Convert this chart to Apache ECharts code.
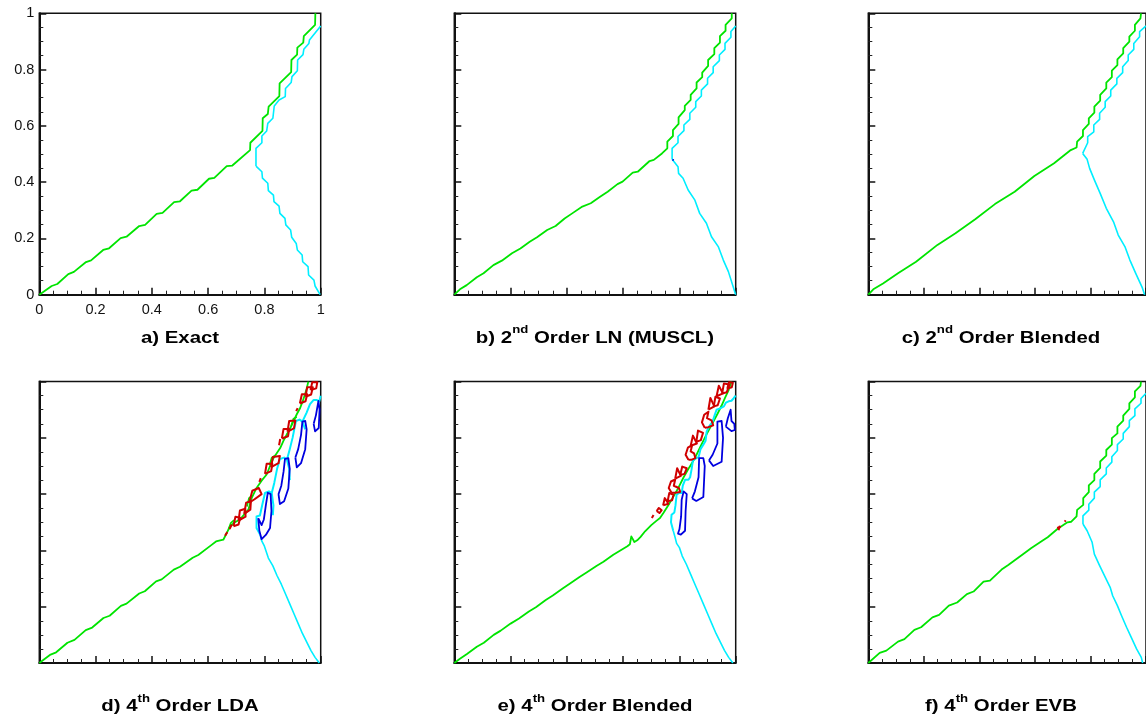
<!DOCTYPE html>
<html>
<head>
<meta charset="utf-8">
<script src="https://cdn.jsdelivr.net/npm/echarts@6/dist/echarts.min.js"></script>
<style>
html,body{margin:0;padding:0;background:#fff}
#chart{width:1146px;height:719px}
</style>
</head>
<body>
<div id="chart"></div>
<script>
// ---- panel captions: [prefix, superscript, suffix] ----
const panelTitles = [
  ['a) Exact', '', ''],
  ['b) 2', 'nd', ' Order LN (MUSCL)'],
  ['c) 2', 'nd', ' Order Blended'],
  ['d) 4', 'th', ' Order LDA'],
  ['e) 4', 'th', ' Order Blended'],
  ['f) 4', 'th', ' Order EVB']
];
const tickValues = [0, 0.2, 0.4, 0.6, 0.8, 1];

// ---- a) Exact ----
const aGreen = [[0,0],[0.044,0.031],[0.064,0.038],[0.103,0.073],[0.123,0.081],[0.166,0.116],[0.184,0.122],[0.227,0.159],[0.248,0.165],[0.289,0.201],[0.310,0.206],[0.355,0.244],[0.376,0.248],[0.417,0.287],[0.438,0.291],[0.479,0.329],[0.5,0.332],[0.541,0.370],[0.562,0.373],[0.603,0.412],[0.622,0.415],[0.666,0.457],[0.686,0.459],[0.749,0.514],[0.750,0.540],[0.793,0.582],[0.794,0.627],[0.812,0.642],[0.815,0.668],[0.853,0.706],[0.854,0.751],[0.895,0.791],[0.896,0.834],[0.916,0.853],[0.917,0.878],[0.938,0.896],[0.940,0.919],[0.980,0.959],[0.981,1.0]];
const aCyanUpper = [[0.770,0.457],[0.770,0.520],[0.791,0.540],[0.791,0.564],[0.808,0.582],[0.812,0.609],[0.830,0.627],[0.835,0.671],[0.852,0.692],[0.874,0.704],[0.875,0.733],[0.895,0.754],[0.898,0.775],[0.917,0.796],[0.918,0.834],[0.937,0.853],[0.940,0.872],[0.958,0.893],[0.960,0.905],[1.0,0.955]];
const aCyanLower = [[0.770,0.457],[0.791,0.437],[0.793,0.414],[0.812,0.396],[0.814,0.370],[0.832,0.354],[0.834,0.331],[0.852,0.315],[0.855,0.289],[0.873,0.271],[0.876,0.248],[0.893,0.230],[0.897,0.204],[0.913,0.182],[0.917,0.159],[0.934,0.141],[0.936,0.117],[0.955,0.100],[0.957,0.070],[0.976,0.052],[0.980,0.031],[0.998,0]];

// ---- b) 2nd order LN (MUSCL) ----
const bGreen = [[0,0],[0.020,0.019],[0.044,0.034],[0.080,0.062],[0.104,0.076],[0.139,0.105],[0.169,0.121],[0.205,0.147],[0.235,0.164],[0.268,0.188],[0.294,0.204],[0.330,0.230],[0.360,0.244],[0.392,0.271],[0.419,0.289],[0.455,0.313],[0.485,0.325],[0.518,0.348],[0.545,0.366],[0.580,0.393],[0.598,0.402],[0.634,0.434],[0.652,0.437],[0.694,0.475],[0.709,0.479],[0.738,0.502],[0.757,0.520],[0.757,0.544],[0.777,0.564],[0.777,0.585],[0.797,0.607],[0.797,0.630],[0.819,0.656],[0.819,0.671],[0.840,0.692],[0.840,0.710],[0.861,0.733],[0.861,0.754],[0.881,0.773],[0.881,0.789],[0.902,0.813],[0.902,0.834],[0.924,0.855],[0.924,0.876],[0.944,0.896],[0.944,0.919],[0.964,0.938],[0.964,0.959],[0.986,0.982],[0.986,1.0]];
const bCyanUpper = [[0.774,0.481],[0.774,0.520],[0.795,0.540],[0.795,0.562],[0.816,0.583],[0.816,0.603],[0.837,0.623],[0.837,0.645],[0.858,0.666],[0.858,0.686],[0.878,0.706],[0.878,0.727],[0.900,0.749],[0.900,0.769],[0.920,0.789],[0.920,0.810],[0.942,0.832],[0.942,0.852],[0.962,0.872],[0.962,0.893],[0.983,0.915],[0.983,0.935],[1.0,0.955]];
const bCyanLower = [[0.774,0.481],[0.795,0.455],[0.797,0.431],[0.813,0.414],[0.831,0.372],[0.855,0.336],[0.872,0.289],[0.896,0.254],[0.914,0.206],[0.938,0.171],[0.956,0.123],[0.974,0.082],[1.0,0]];
const bBlue = [[0.776,0.476],[0.779,0.482]];

// ---- c) 2nd order blended ----
const cGreen = [[0,0],[0.018,0.019],[0.053,0.040],[0.107,0.076],[0.172,0.117],[0.249,0.177],[0.314,0.218],[0.385,0.268],[0.456,0.322],[0.527,0.366],[0.598,0.422],[0.669,0.467],[0.729,0.514],[0.750,0.523],[0.752,0.544],[0.773,0.564],[0.773,0.585],[0.794,0.607],[0.794,0.627],[0.814,0.647],[0.814,0.668],[0.835,0.690],[0.835,0.710],[0.857,0.733],[0.857,0.754],[0.877,0.773],[0.877,0.796],[0.897,0.816],[0.897,0.836],[0.918,0.858],[0.918,0.876],[0.940,0.899],[0.940,0.917],[0.960,0.938],[0.960,0.959],[0.980,0.982],[0.982,1.0]];
const cCyanUpper = [[0.772,0.502],[0.790,0.540],[0.790,0.562],[0.812,0.579],[0.812,0.603],[0.833,0.623],[0.833,0.645],[0.853,0.666],[0.853,0.686],[0.873,0.706],[0.873,0.727],[0.895,0.749],[0.895,0.769],[0.916,0.789],[0.916,0.810],[0.936,0.832],[0.936,0.852],[0.956,0.872],[0.956,0.893],[0.977,0.917],[0.977,0.935],[1.0,0.955]];
const cCyanLower = [[0.772,0.502],[0.788,0.481],[0.797,0.449],[0.814,0.408],[0.835,0.360],[0.857,0.307],[0.883,0.259],[0.900,0.212],[0.924,0.171],[0.942,0.123],[0.963,0.076],[0.987,0.024],[0.995,0]];

// ---- d) 4th order LDA ----
const dGreen = [[0,0],[0.040,0.030],[0.060,0.038],[0.100,0.072],[0.125,0.082],[0.165,0.117],[0.188,0.126],[0.228,0.160],[0.250,0.168],[0.290,0.203],[0.310,0.211],[0.355,0.247],[0.375,0.255],[0.415,0.290],[0.435,0.297],[0.478,0.332],[0.500,0.342],[0.545,0.374],[0.565,0.384],[0.610,0.418],[0.628,0.432],[0.654,0.438],[0.665,0.460],[0.678,0.486],[0.695,0.500],[0.713,0.510],[0.730,0.530],[0.743,0.545],[0.755,0.587],[0.772,0.622],[0.790,0.648],[0.808,0.670],[0.820,0.700],[0.832,0.728],[0.856,0.764],[0.868,0.790],[0.879,0.811],[0.892,0.835],[0.903,0.859],[0.915,0.884],[0.927,0.906],[0.936,0.930],[0.944,0.954],[0.950,0.975],[0.956,1.0]];
const dGreenSpikes = [
  [[0.672,0.474],[0.680,0.497],[0.692,0.508]],
  [[0.738,0.556],[0.745,0.586],[0.755,0.594]],
  [[0.818,0.703],[0.826,0.730],[0.838,0.738]],
  [[0.895,0.842],[0.903,0.868],[0.915,0.874]]
];
const dCyanUpper = [
  [[0.784,0.457],[0.772,0.480],[0.772,0.521],[0.784,0.524],[0.793,0.565],[0.802,0.604],[0.816,0.610],[0.826,0.604],[0.832,0.560],[0.830,0.525]],
  [[0.826,0.604],[0.835,0.640],[0.845,0.690],[0.855,0.725],[0.870,0.730],[0.880,0.722],[0.888,0.690],[0.890,0.650]],
  [[0.880,0.722],[0.890,0.760],[0.900,0.800],[0.912,0.860],[0.925,0.865],[0.935,0.858],[0.945,0.830]],
  [[0.935,0.858],[0.950,0.890],[0.962,0.920],[0.975,0.935],[0.985,0.935],[0.995,0.930],[1.0,0.950]]
];
const dCyanLower = [[0.784,0.457],[0.790,0.435],[0.800,0.415],[0.814,0.373],[0.830,0.345],[0.845,0.310],[0.860,0.280],[0.875,0.245],[0.890,0.210],[0.905,0.175],[0.920,0.140],[0.935,0.105],[0.950,0.075],[0.965,0.045],[0.980,0.020],[0.995,0]];
const dBlue = [
  [[0.778,0.515],[0.782,0.470],[0.790,0.440],[0.805,0.455],[0.820,0.480],[0.825,0.540],[0.822,0.600],[0.812,0.605],[0.805,0.560],[0.798,0.510],[0.790,0.490],[0.778,0.515]],
  [[0.850,0.600],[0.855,0.565],[0.870,0.575],[0.885,0.620],[0.890,0.690],[0.885,0.728],[0.873,0.725],[0.868,0.680],[0.860,0.630],[0.850,0.600]],
  [[0.910,0.730],[0.915,0.695],[0.930,0.710],[0.945,0.760],[0.950,0.830],[0.945,0.860],[0.935,0.858],[0.930,0.810],[0.920,0.760],[0.910,0.730]],
  [[0.975,0.850],[0.980,0.823],[0.993,0.835],[0.996,0.900],[0.992,0.931],[0.985,0.925],[0.983,0.880],[0.975,0.850]]
];
const dRed = [
  [[0.660,0.452],[0.668,0.465]],
  [[0.676,0.476],[0.684,0.492]],
  [[0.690,0.486],[0.697,0.520],[0.714,0.516],[0.708,0.492],[0.690,0.486]],
  [[0.708,0.506],[0.713,0.542],[0.732,0.548],[0.733,0.520],[0.708,0.506]],
  [[0.728,0.530],[0.735,0.570],[0.752,0.575],[0.750,0.545],[0.728,0.530]],
  [[0.746,0.570],[0.757,0.612],[0.780,0.622],[0.790,0.600],[0.765,0.582],[0.746,0.570]],
  [[0.782,0.644],[0.787,0.657]],
  [[0.802,0.672],[0.808,0.708],[0.828,0.708],[0.824,0.682],[0.802,0.672]],
  [[0.824,0.696],[0.830,0.732],[0.855,0.736],[0.850,0.710],[0.824,0.696]],
  [[0.852,0.774],[0.856,0.796]],
  [[0.862,0.798],[0.868,0.832],[0.888,0.832],[0.884,0.806],[0.862,0.798]],
  [[0.882,0.822],[0.888,0.860],[0.910,0.862],[0.905,0.834],[0.882,0.822]],
  [[0.913,0.895],[0.918,0.906]],
  [[0.926,0.922],[0.933,0.955],[0.952,0.955],[0.946,0.930],[0.926,0.922]],
  [[0.946,0.946],[0.952,0.980],[0.972,0.980],[0.966,0.954],[0.946,0.946]],
  [[0.964,0.970],[0.970,0.998],[0.988,0.998],[0.984,0.976],[0.964,0.970]]
];

// ---- e) 4th order blended ----
const eGreen = [[0,0],[0.020,0.015],[0.045,0.032],[0.080,0.058],[0.105,0.072],[0.140,0.100],[0.165,0.115],[0.200,0.140],[0.230,0.158],[0.265,0.183],[0.290,0.198],[0.325,0.224],[0.350,0.240],[0.385,0.265],[0.410,0.282],[0.445,0.306],[0.470,0.322],[0.505,0.345],[0.530,0.360],[0.565,0.385],[0.590,0.400],[0.615,0.415],[0.624,0.422],[0.629,0.450],[0.636,0.452],[0.640,0.430],[0.650,0.436],[0.662,0.448],[0.678,0.468],[0.700,0.490],[0.718,0.505],[0.731,0.515],[0.743,0.533],[0.760,0.560],[0.775,0.585],[0.796,0.622],[0.815,0.660],[0.835,0.695],[0.855,0.728],[0.875,0.770],[0.895,0.810],[0.915,0.847],[0.935,0.885],[0.950,0.915],[0.962,0.942],[0.975,0.970],[0.985,1.0]];
const eCyanUpper = [[0.778,0.470],[0.770,0.500],[0.772,0.527],[0.782,0.535],[0.786,0.560],[0.790,0.598],[0.800,0.605],[0.808,0.604],[0.812,0.630],[0.820,0.651],[0.832,0.651],[0.838,0.660],[0.843,0.687],[0.848,0.720],[0.860,0.728],[0.868,0.731],[0.875,0.760],[0.885,0.776],[0.893,0.790],[0.897,0.823],[0.905,0.840],[0.918,0.858],[0.925,0.880],[0.932,0.900],[0.945,0.905],[0.958,0.912],[0.965,0.925],[0.975,0.930],[0.985,0.932],[0.992,0.940],[1.0,0.950]];
const eCyanLower = [[0.778,0.470],[0.785,0.445],[0.790,0.425],[0.800,0.410],[0.810,0.380],[0.825,0.350],[0.840,0.315],[0.855,0.280],[0.870,0.245],[0.885,0.210],[0.900,0.175],[0.915,0.140],[0.930,0.105],[0.945,0.075],[0.960,0.045],[0.975,0.020],[0.990,0]];
const eBlue = [
  [[0.800,0.475],[0.795,0.460],[0.805,0.456],[0.820,0.470],[0.822,0.540],[0.826,0.600],[0.815,0.610],[0.808,0.580],[0.806,0.520],[0.800,0.475]],
  [[0.845,0.585],[0.860,0.576],[0.885,0.590],[0.890,0.700],[0.885,0.728],[0.870,0.728],[0.868,0.660],[0.855,0.610],[0.845,0.585]],
  [[0.905,0.720],[0.920,0.700],[0.950,0.715],[0.955,0.800],[0.950,0.860],[0.935,0.858],[0.935,0.780],[0.918,0.740],[0.905,0.720]],
  [[0.965,0.840],[0.985,0.824],[0.997,0.828],[0.995,0.850],[0.985,0.860],[0.982,0.900],[0.975,0.906],[0.972,0.870],[0.965,0.840]]
];
const eRed = [
  [[0.702,0.515],[0.708,0.526]],
  [[0.719,0.540],[0.727,0.551],[0.737,0.543],[0.729,0.533],[0.719,0.540]],
  [[0.742,0.560],[0.748,0.586],[0.761,0.566],[0.742,0.560]],
  [[0.758,0.575],[0.764,0.604],[0.779,0.598],[0.774,0.578],[0.758,0.575]],
  [[0.772,0.605],[0.762,0.622],[0.770,0.645],[0.785,0.652],[0.780,0.630],[0.798,0.622],[0.803,0.608],[0.785,0.605],[0.772,0.605]],
  [[0.785,0.655],[0.792,0.692],[0.805,0.665],[0.785,0.655]],
  [[0.803,0.668],[0.810,0.698],[0.826,0.692],[0.818,0.672],[0.803,0.668]],
  [[0.832,0.722],[0.822,0.740],[0.830,0.765],[0.845,0.774],[0.840,0.752],[0.852,0.745],[0.857,0.728],[0.842,0.722],[0.832,0.722]],
  [[0.840,0.772],[0.848,0.808],[0.862,0.780],[0.840,0.772]],
  [[0.860,0.786],[0.866,0.826],[0.884,0.818],[0.876,0.792],[0.860,0.786]],
  [[0.890,0.836],[0.880,0.855],[0.888,0.882],[0.903,0.893],[0.898,0.870],[0.914,0.862],[0.920,0.845],[0.903,0.838],[0.890,0.836]],
  [[0.903,0.900],[0.910,0.942],[0.924,0.912],[0.903,0.900]],
  [[0.922,0.912],[0.928,0.946],[0.944,0.940],[0.936,0.916],[0.922,0.912]],
  [[0.932,0.948],[0.940,0.985],[0.955,0.958],[0.932,0.948]],
  [[0.952,0.958],[0.958,0.993],[0.978,0.990],[0.968,0.962],[0.952,0.958]],
  [[0.970,0.975],[0.976,0.998],[0.990,0.996],[0.986,0.980],[0.970,0.975]]
];

// ---- f) 4th order EVB ----
const fGreen = [[0,0],[0.041,0.036],[0.065,0.044],[0.107,0.076],[0.130,0.085],[0.166,0.118],[0.190,0.127],[0.231,0.162],[0.255,0.171],[0.290,0.204],[0.320,0.215],[0.355,0.245],[0.379,0.254],[0.415,0.289],[0.438,0.293],[0.480,0.332],[0.504,0.348],[0.563,0.391],[0.586,0.408],[0.628,0.435],[0.646,0.447],[0.681,0.476],[0.717,0.500],[0.731,0.502],[0.750,0.521],[0.752,0.544],[0.774,0.562],[0.774,0.586],[0.794,0.607],[0.794,0.631],[0.814,0.650],[0.814,0.672],[0.835,0.693],[0.835,0.716],[0.857,0.737],[0.857,0.757],[0.877,0.776],[0.877,0.799],[0.897,0.816],[0.897,0.840],[0.918,0.861],[0.918,0.879],[0.940,0.903],[0.940,0.923],[0.960,0.944],[0.960,0.965],[0.980,0.985],[0.982,1.0]];
const fCyanUpper = [[0.773,0.494],[0.773,0.523],[0.794,0.543],[0.794,0.564],[0.814,0.586],[0.814,0.607],[0.835,0.627],[0.835,0.651],[0.857,0.672],[0.857,0.693],[0.877,0.714],[0.877,0.733],[0.897,0.755],[0.897,0.776],[0.918,0.796],[0.918,0.816],[0.940,0.840],[0.940,0.861],[0.960,0.879],[0.960,0.903],[0.982,0.923],[0.982,0.940],[1.0,0.958]];
const fCyanLower = [[0.773,0.494],[0.788,0.470],[0.806,0.429],[0.814,0.387],[0.833,0.346],[0.853,0.305],[0.871,0.269],[0.880,0.239],[0.897,0.204],[0.912,0.168],[0.930,0.127],[0.944,0.097],[0.966,0.050],[0.983,0.020],[0.988,0]];
const fRed = [
  [[0.680,0.480],[0.692,0.484]],
  [[0.685,0.472],[0.690,0.488]],
  [[0.707,0.502],[0.711,0.507]]
];

// ---- layout of the 2 x 3 panel grid (pixels) ----
const COL_X = [39.3, 454.3, 868.3];
const ROW_Y = [13.3, 381.6];
const BOX = 281.4;

const GREEN = '#00e400', CYAN = '#00eeff', BLUE = '#0000e0', RED = '#d00000';
const FONT = '"Liberation Sans", Arial, Helvetica, sans-serif';

const grids = [], xAxes = [], yAxes = [], series = [], graphics = [];

for (let i = 0; i < 6; i++) {
  const col = i % 3, row = Math.floor(i / 3);
  const showLabels = i === 0;
  grids.push({
    left: COL_X[col], top: ROW_Y[row], width: BOX, height: BOX,
    show: true, borderColor: '#111', borderWidth: 1.5, backgroundColor: 'transparent',
    containLabel: false
  });
  const axisCommon = {
    gridIndex: i, type: 'value', min: 0, max: 1, interval: 0.2,
    axisLine: { show: true, onZero: false, lineStyle: { color: '#111', width: 2 } },
    axisTick: { show: true, inside: true, length: 7, lineStyle: { color: '#111', width: 1.5 } },
    minorTick: { show: true, splitNumber: 4, length: 4, lineStyle: { color: '#222', width: 1 } },
    splitLine: { show: false },
    minorSplitLine: { show: false }
  };
  xAxes.push(Object.assign({}, axisCommon, {
    position: 'bottom',
    axisLabel: { show: showLabels, margin: 8, color: '#111', fontSize: 14.5, fontFamily: FONT,
      formatter: v => tickValues.includes(v) ? String(v) : '' }
  }));
  yAxes.push(Object.assign({}, axisCommon, {
    position: 'left',
    axisLabel: { show: showLabels, margin: 5, color: '#111', fontSize: 14.5, fontFamily: FONT,
      formatter: v => tickValues.includes(v) ? String(v) : '' }
  }));

  // caption under each panel
  const t = panelTitles[i];
  const text = t[1] ? `{m|${t[0]}}{s|${t[1]}}{m|${t[2]}}` : `{m|${t[0]}}`;
  graphics.push({
    type: 'text',
    x: COL_X[col] + BOX / 2 - (col === 2 ? 8 : 0),
    y: ROW_Y[row] + BOX + 41,
    scaleX: 1.2,
    silent: true,
    style: {
      text: text,
      align: 'center',
      verticalAlign: 'middle',
      rich: {
        m: { fontSize: 17, fontWeight: 'bold', fontFamily: FONT, fill: '#000', verticalAlign: 'bottom', lineHeight: 22 },
        s: { fontSize: 11, fontWeight: 'bold', fontFamily: FONT, fill: '#000', verticalAlign: 'top', lineHeight: 22 }
      }
    }
  });
}

function addLine(panel, pts, color, width, z) {
  series.push({
    type: 'line', xAxisIndex: panel, yAxisIndex: panel,
    data: pts, showSymbol: false, symbol: 'none', silent: true,
    lineStyle: { color: color, width: width, join: 'round' },
    z: z || 2, clip: true, animation: false
  });
}
function addMany(panel, list, color, width, z) {
  list.forEach(p => addLine(panel, p, color, width, z));
}

// a
addLine(0, aGreen, GREEN, 1.8);
addLine(0, aCyanUpper, CYAN, 1.6);
addLine(0, aCyanLower, CYAN, 1.6);
// b
addLine(1, bGreen, GREEN, 1.8);
addLine(1, bCyanUpper, CYAN, 1.6);
addLine(1, bCyanLower, CYAN, 1.6);
addLine(1, bBlue, BLUE, 1.5, 3);
// c
addLine(2, cGreen, GREEN, 1.8);
addLine(2, cCyanUpper, CYAN, 1.6);
addLine(2, cCyanLower, CYAN, 1.6);
// d
addLine(3, dGreen, GREEN, 1.8);
addMany(3, dGreenSpikes, GREEN, 1.6);
addMany(3, dCyanUpper, CYAN, 2);
addLine(3, dCyanLower, CYAN, 1.6);
addMany(3, dBlue, BLUE, 1.8, 3);
addMany(3, dRed, RED, 2, 4);
// e
addLine(4, eGreen, GREEN, 1.8);
addLine(4, eCyanUpper, CYAN, 2);
addLine(4, eCyanLower, CYAN, 1.6);
addMany(4, eBlue, BLUE, 1.8, 3);
addMany(4, eRed, RED, 2, 4);
// f
addLine(5, fGreen, GREEN, 1.8);
addLine(5, fCyanUpper, CYAN, 1.6);
addLine(5, fCyanLower, CYAN, 1.6);
addMany(5, fRed, RED, 2, 4);

const chart = echarts.init(document.getElementById('chart'), null, { renderer: 'canvas' });
chart.setOption({
  animation: false,
  backgroundColor: '#fff',
  grid: grids,
  xAxis: xAxes,
  yAxis: yAxes,
  series: series,
  graphic: graphics
});
</script>
</body>
</html>
